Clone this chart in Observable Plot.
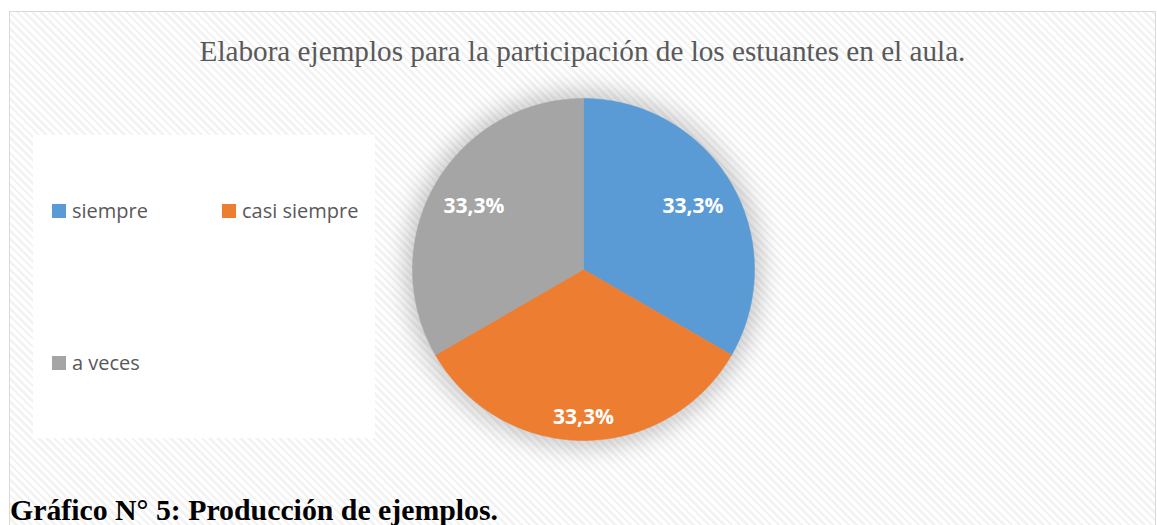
<!DOCTYPE html>
<html><head><meta charset="utf-8">
<script src="https://cdn.jsdelivr.net/npm/d3@7"></script>
<script src="https://cdn.jsdelivr.net/npm/@observablehq/plot@0.6"></script>
<style>
html,body{margin:0;padding:0;background:#fff;overflow:hidden;}
#wrap{position:relative;width:1157px;height:525px;overflow:hidden;}
#frame{position:absolute;left:9px;top:11px;width:1147px;height:600px;border:1.5px solid #d9d9d9;box-sizing:border-box;background-color:#fff;
 background-image:repeating-linear-gradient(45deg,#ffffff 0px,#ffffff 3px,#f3f3f3 3px,#f3f3f3 5.5px);}
#title{position:absolute;left:9px;width:1147px;top:35px;text-align:center;font-family:"Liberation Serif","Times New Roman",serif;font-size:29.2px;color:#595959;white-space:nowrap;}
#legend{position:absolute;left:33px;top:135px;width:342px;height:303px;background:#fff;font-family:"Open Sans","Noto Sans",sans-serif;font-size:20px;color:#595959;}
.item{position:absolute;display:flex;align-items:center;white-space:nowrap;line-height:27px;}
.sw{width:14px;height:14px;margin-right:6px;}
#chart{position:absolute;left:383px;top:69px;}
#caption{position:absolute;left:10px;top:493px;font-family:"Liberation Serif","Times New Roman",serif;font-weight:bold;font-size:29.8px;color:#000;white-space:nowrap;}
</style></head>
<body>
<div id="wrap">
  <div id="frame"></div>
  <div id="title"></div>
  <div id="legend"></div>
  <div id="chart"></div>
  <div id="caption"></div>
</div>
<script>
const titleText = "Elabora ejemplos para la participación de los estuantes en el aula.";
const captionText = "Gráfico N° 5: Producción de ejemplos.";
const categories = ["siempre", "casi siempre", "a veces"];
const values = [33.3, 33.3, 33.3];
const labels = ["33,3%", "33,3%", "33,3%"];
const colors = ["#5B9BD5", "#ED7D31", "#A5A5A5"];

document.getElementById("title").textContent = titleText;
document.getElementById("caption").textContent = captionText;

// Legend (HTML)
const legend = document.getElementById("legend");
const legendPos = [[19, 62], [189, 62], [19, 214]];
categories.forEach((c, i) => {
  const d = document.createElement("div");
  d.className = "item";
  d.style.left = legendPos[i][0] + "px";
  d.style.top = legendPos[i][1] + "px";
  d.innerHTML = `<div class="sw" style="background:${colors[i]}"></div><span>${c}</span>`;
  legend.appendChild(d);
});

// Pie geometry from values (clockwise from 12 o'clock)
const total = d3.sum(values);
let acc = 0;
const slices = values.map((v, i) => {
  const a0 = acc / total * 2 * Math.PI;
  acc += v;
  const a1 = acc / total * 2 * Math.PI;
  return {cat: categories[i], a0, a1, label: labels[i], color: colors[i]};
});
const pts = [];
slices.forEach(s => {
  pts.push({cat: s.cat, x: 0, y: 0});
  const n = Math.max(2, Math.ceil((s.a1 - s.a0) / (Math.PI / 360)));
  for (let k = 0; k <= n; k++) {
    const a = s.a0 + (s.a1 - s.a0) * k / n;
    pts.push({cat: s.cat, x: Math.sin(a), y: Math.cos(a)});
  }
  pts.push({cat: s.cat, x: 0, y: 0});
});

const R = 171, SIZE = 400, M = (SIZE - 2 * R) / 2;
// Labels placed "inside end" like the original
const lw = 60, lh = 18, pad = 14;
const labs = slices.map(s => {
  const m = (s.a0 + s.a1) / 2;
  const sx = Math.sin(m), sy = Math.cos(m);
  const ext = Math.abs(sx) * lw / 2 + Math.abs(sy) * lh / 2;
  const r = (R - pad - ext) / R;
  return {label: s.label, x: sx * r, y: sy * r};
});

const plot = Plot.plot({
  width: SIZE, height: SIZE,
  marginTop: M, marginBottom: M, marginLeft: M, marginRight: M,
  x: {domain: [-1, 1], axis: null},
  y: {domain: [-1, 1], axis: null},
  color: {domain: categories, range: colors},
  style: {background: "transparent", overflow: "visible"},
  marks: [
    Plot.dot([{x: 0, y: 0}], {x: "x", y: "y", r: R + 8, fill: "#000", fillOpacity: 0.2, stroke: null}),
    Plot.line(pts, {x: "x", y: "y", z: "cat", fill: "cat", stroke: "cat", strokeWidth: 0.5, curve: "linear"}),
    Plot.text(labs, {x: "x", y: "y", text: "label", fill: "#fff", fontSize: 21, fontWeight: "bold",
      fontFamily: "'Open Sans','Noto Sans',sans-serif"})
  ]
});
// soft shadow filter
const ns = "http://www.w3.org/2000/svg";
const defs = document.createElementNS(ns, "defs");
defs.innerHTML = `<filter id="soft" x="-50%" y="-50%" width="200%" height="200%"><feGaussianBlur stdDeviation="11"/></filter>`;
plot.insertBefore(defs, plot.firstChild);
const dotG = plot.querySelector('g[aria-label="dot"]');
if (dotG) dotG.setAttribute("filter", "url(#soft)");
document.getElementById("chart").appendChild(plot);
</script>
</body></html>
